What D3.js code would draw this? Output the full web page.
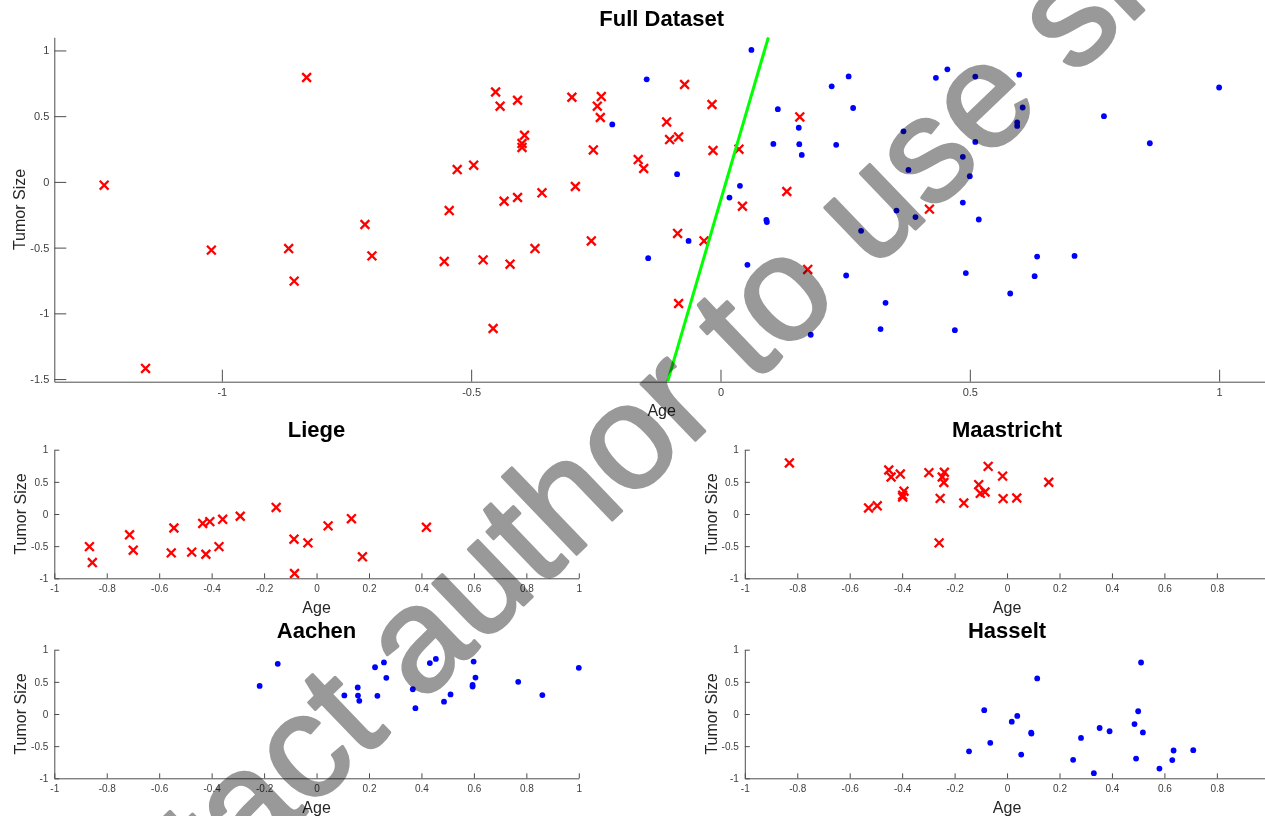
<!DOCTYPE html>
<html>
<head>
<meta charset="utf-8">
<script src="https://cdn.jsdelivr.net/npm/d3@7/dist/d3.min.js"></script>
<style>
body { margin: 0; background: #fff; }
svg { display: block; font-family: "Liberation Sans", Arial, Helvetica, sans-serif; }
.axis path, .axis line { stroke: #4d4d4d; stroke-width: 1; }
.axis text { fill: #404040; }
.label { fill: #262626; font-size: 16px; }
.title { fill: #000; font-size: 22px; font-weight: bold; }
</style>
</head>
<body>
<svg id="chart" width="1265" height="816"></svg>
<script>
// malignant (red x) sites
const liegeAge  = [-1.236, -1.153, -1.021, -0.866, -0.855, -0.713, -0.699, -0.544, -0.554, -0.476, -0.434, -0.407, -0.422,
                   -0.358, -0.372, -0.291, -0.456, -0.154, -0.086, -0.033, -0.084, 0.044, 0.133, 0.175, 0.419]
const liegeSize = [-0.025, -1.419, -0.519, -0.507, -0.755, -0.324, -0.563, -0.218, -0.605, -0.593, -0.147, -0.119, -0.626,
                   -0.083, -0.507, -0.035, -1.115, 0.102, -0.392, -0.449, -0.925, -0.185, -0.073, -0.666, -0.207]
const maastrichtAge  = [-0.830, -0.528, -0.495, -0.451, -0.442, -0.407, -0.393, -0.398, -0.398, -0.298, -0.239, -0.247,
                        -0.241, -0.255, -0.259, -0.165, -0.108, -0.102, -0.084, -0.072, -0.017, -0.015, 0.037, 0.159]
const maastrichtSize = [0.794, 0.094, 0.127, 0.684, 0.576, 0.621, 0.355, 0.292, 0.262, 0.644, 0.649, 0.576,
                        0.490, 0.243, -0.449, 0.170, 0.456, 0.322, 0.342, 0.741, 0.589, 0.239, 0.249, 0.494]
// benign (blue dot) sites
const aachenAge  = [-0.217, -0.148, 0.062, 0.106, 0.157, 0.158, 0.163, 0.223, 0.232, 0.257, 0.266, 0.367,
                    0.377, 0.432, 0.455, 0.486, 0.511, 0.599, 0.595, 0.595, 0.606, 0.769, 0.861, 1.0]
const aachenSize = [0.437, 0.780, 1.004, 0.289, 0.412, 0.287, 0.205, 0.727, 0.282, 0.802, 0.562, 0.385,
                    0.091, 0.792, 0.856, 0.191, 0.304, 0.816, 0.452, 0.426, 0.566, 0.500, 0.294, 0.718]
const hasseltAge  = [-0.145, -0.087, -0.064, 0.018, 0.039, 0.054, 0.092, 0.093, 0.115, 0.252, 0.282, 0.331, 0.353,
                     0.391, 0.486, 0.500, 0.511, 0.518, 0.492, 0.581, 0.635, 0.630, 0.710, 0.321, 0.470, 0.181]
const hasseltSize = [-0.580, 0.059, -0.449, -0.119, -0.030, -0.631, -0.290, -0.305, 0.553, -0.712, -0.372, -0.920, -0.218,
                     -0.268, -0.157, 0.043, 0.801, -0.286, -0.694, -0.849, -0.568, -0.717, -0.563, -1.120, -1.128, -1.163]
// decision boundary
const boundaryAge  = [-0.106, 0.096]
const boundarySize = [-1.52, 1.10]

const fullAgeTicks  = [-1, -0.5, 0, 0.5, 1]
const fullSizeTicks = [-1.5, -1, -0.5, 0, 0.5, 1]
const siteAgeTicks  = [-1, -0.8, -0.6, -0.4, -0.2, 0, 0.2, 0.4, 0.6, 0.8, 1]
const siteSizeTicks = [-1, -0.5, 0, 0.5, 1]

const watermark = 'Contact author to use slides'

const svg = d3.select('#chart')
const fmt = d => String(+d.toFixed(1))

const liege = { age: liegeAge, size: liegeSize, marker: 'x' }
const maastricht = { age: maastrichtAge, size: maastrichtSize, marker: 'x' }
const aachen = { age: aachenAge, size: aachenSize, marker: 'dot' }
const hasselt = { age: hasseltAge, size: hasseltSize, marker: 'dot' }

const panels = [
  { title: 'Full Dataset', left: 54.3, right: 1269, top: 37.3, bottom: 381.7,
    xDomain: [-1.336, 1.1], yDomain: [-1.52, 1.1], xTicks: fullAgeTicks, yTicks: fullSizeTicks,
    tick: 12, font: 11, titleGap: 11.5, ylabGap: 29.5,
    sets: [liege, maastricht, aachen, hasselt], boundary: true },
  { title: 'Liege', left: 54.3, right: 578.8, top: 449.7, bottom: 578.3,
    xDomain: [-1, 1], yDomain: [-1, 1], xTicks: siteAgeTicks, yTicks: siteSizeTicks,
    tick: 5, font: 10, titleGap: 13, ylabGap: 28, sets: [liege] },
  { title: 'Maastricht', left: 744.8, right: 1269.3, top: 449.7, bottom: 578.3,
    xDomain: [-1, 1], yDomain: [-1, 1], xTicks: siteAgeTicks.slice(0, -1), yTicks: siteSizeTicks,
    tick: 5, font: 10, titleGap: 13, ylabGap: 28, sets: [maastricht] },
  { title: 'Aachen', left: 54.3, right: 578.8, top: 649.7, bottom: 778.3,
    xDomain: [-1, 1], yDomain: [-1, 1], xTicks: siteAgeTicks, yTicks: siteSizeTicks,
    tick: 5, font: 10, titleGap: 12, ylabGap: 28, sets: [aachen] },
  { title: 'Hasselt', left: 744.8, right: 1269.3, top: 649.7, bottom: 778.3,
    xDomain: [-1, 1], yDomain: [-1, 1], xTicks: siteAgeTicks.slice(0, -1), yTicks: siteSizeTicks,
    tick: 5, font: 10, titleGap: 12, ylabGap: 28, sets: [hasselt] }
]

panels.forEach(p => {
  const x = d3.scaleLinear().domain(p.xDomain).range([p.left, p.right])
  const y = d3.scaleLinear().domain(p.yDomain).range([p.bottom, p.top])
  const g = svg.append('g')

  g.append('g')
    .attr('class', 'axis')
    .attr('transform', `translate(0,${p.bottom})`)
    .call(d3.axisBottom(x).tickValues(p.xTicks).tickFormat(fmt)
      .tickSizeInner(-p.tick).tickSizeOuter(0).tickPadding(p.font === 11 ? 6.5 : 7))
    .call(a => a.selectAll('text').attr('font-size', p.font).attr('font-family', null))

  g.append('g')
    .attr('class', 'axis')
    .attr('transform', `translate(${p.left},0)`)
    .call(d3.axisLeft(y).tickValues(p.yTicks).tickFormat(fmt)
      .tickSizeInner(-p.tick).tickSizeOuter(0).tickPadding(p.font === 11 ? 5 : 6))
    .call(a => a.selectAll('text').attr('font-size', p.font).attr('font-family', null))

  const cx = (p.left + p.right) / 2
  g.append('text').attr('class', 'title')
    .attr('x', cx).attr('y', p.top - p.titleGap)
    .attr('text-anchor', 'middle').text(p.title)
  g.append('text').attr('class', 'label')
    .attr('x', cx).attr('y', p.bottom + 34.3)
    .attr('text-anchor', 'middle').text('Age')
  g.append('text').attr('class', 'label')
    .attr('transform', `translate(${p.left - p.ylabGap},${(p.top + p.bottom) / 2}) rotate(-90)`)
    .attr('text-anchor', 'middle').text('Tumor Size')

  const inside = (a, s) => a >= p.xDomain[0] && a <= p.xDomain[1] && s >= p.yDomain[0] && s <= p.yDomain[1]

  p.sets.forEach(set => {
    const pts = set.age.map((a, i) => [a, set.size[i]]).filter(d => inside(d[0], d[1]))
    if (set.marker === 'x') {
      const r = 4.4
      g.selectAll(null).data(pts).enter().append('path')
        .attr('d', d => {
          const px = x(d[0]), py = y(d[1])
          return `M${px - r},${py - r}L${px + r},${py + r}M${px - r},${py + r}L${px + r},${py - r}`
        })
        .attr('stroke', '#ff0000').attr('stroke-width', 2.3).attr('fill', 'none')
    } else {
      g.selectAll(null).data(pts).enter().append('circle')
        .attr('cx', d => x(d[0])).attr('cy', d => y(d[1])).attr('r', 2.9)
        .attr('fill', '#0000ff')
    }
  })

  if (p.boundary) {
    g.append('path')
      .datum(boundaryAge.map((a, i) => [a, boundarySize[i]]))
      .attr('d', d3.line().x(d => x(d[0])).y(d => y(d[1])))
      .attr('stroke', '#00ff00').attr('stroke-width', 3).attr('fill', 'none')
  }
})

// watermark laid over the figure, placed by the centre of the "o" in "to"
const fs = 148
const angle = -43.8
const mark = svg.append('text')
  .attr('font-size', fs)
  .attr('fill', '#999999')
  .attr('stroke', '#999999')
  .attr('stroke-width', 3)
  .attr('stroke-linejoin', 'round')
  .style('mix-blend-mode', 'multiply')
  .text(watermark)
const node = mark.node()
const k = watermark.indexOf(' to ') + 2
const lx = node.getSubStringLength(0, k) + node.getSubStringLength(k, 1) / 2
const ly = -0.26 * fs
const t = angle * Math.PI / 180
const rx = lx * Math.cos(t) - ly * Math.sin(t)
const ry = lx * Math.sin(t) + ly * Math.cos(t)
mark.attr('transform', `translate(${786 - rx},${300 - ry}) rotate(${angle})`)
</script>
</body>
</html>
